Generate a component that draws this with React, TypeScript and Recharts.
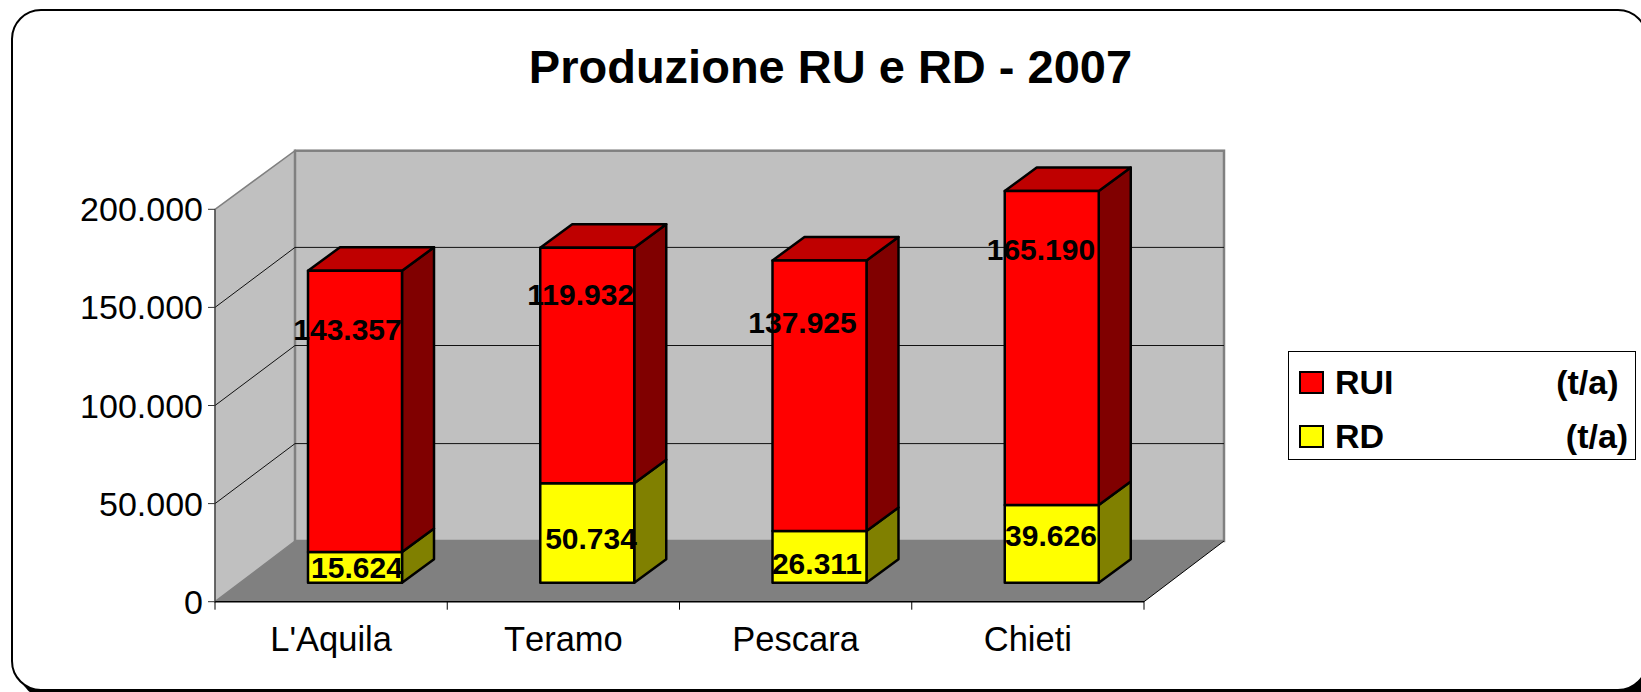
import { BarChart, Bar, CartesianGrid, LabelList, Legend, ReferenceArea, XAxis, YAxis } from "recharts";

const provinces = ["L'Aquila", "Teramo", "Pescara", "Chieti"];
const rdValues = [15624, 50734, 26311, 39626];
// bar heights as drawn; the Chieti column stands lower than its printed label says
const ruiValues = [143357, 119932, 137925, 160000];
const rdLabels = ["15.624", "50.734", "26.311", "39.626"];
const ruiLabels = ["143.357", "119.932", "137.925", "165.190"];
const yTicks = [0, 50000, 100000, 150000, 200000];
const edgeTicks = [0, 1, 2, 3, 4];
const RUI_NAME = "RUI                 (t/a)";
const RD_NAME = "RD                   (t/a)";

const rows = provinces.map((province, i) => ({ province, slot: i, rd: rdValues[i], rui: ruiValues[i] }));

const FONT = "'Liberation Sans', Arial, sans-serif";
const WALL_DX = 80;
const WALL_DY = 60;
const WALL_TOP_DY = 58.6;
const WALL_FLOOR_DY = 60.7;
const BAR_SHIFT_X = 24;
const BAR_SHIFT_Y = -19;
const BAR_DX = 32;
const BAR_DY = 23.5;
const EDGE_AXIS = 0;
const NAME_AXIS = 1;

// where the exporter left the value labels, relative to the middle of the front face
const rdNudge = [[2, 0], [3.8, 6], [-2.5, 6.5], [-0.8, -8.8]];
const ruiNudge = [[-7.5, -82.3], [-6.5, -71.5], [-17, -73.6], [-10.8, -98.7]];

const formatTick = (v: number) => String(v).replace(/\B(?=(\d{3})+$)/g, ".");

function Room({ x, y, width, height }: any) {
  const right = x + width;
  const bottom = y + height;
  const backTop = y - WALL_TOP_DY;
  const backBottom = bottom - WALL_FLOOR_DY;
  return (
    <g>
      <polygon
        points={`${x},${y} ${x + WALL_DX},${backTop} ${x + WALL_DX},${backBottom} ${x},${bottom}`}
        fill="#c0c0c0"
        stroke="#808080"
        strokeWidth={1.5}
      />
      <rect
        x={x + WALL_DX}
        y={backTop}
        width={width}
        height={backBottom - backTop}
        fill="#c0c0c0"
        stroke="#808080"
        strokeWidth={2.5}
      />
      <polygon
        points={`${x},${bottom} ${x + WALL_DX},${backBottom} ${right + WALL_DX},${backBottom} ${right},${bottom}`}
        fill="#808080"
      />
      <line x1={right} y1={bottom} x2={right + WALL_DX} y2={backBottom} stroke="#000" strokeWidth={1} />
    </g>
  );
}

function GridStep({ x1, y1, x2, y2 }: any) {
  if (y1 > 600 || y1 < 215) return <g />;
  return (
    <g stroke="#111" strokeWidth={1}>
      <line x1={x1} y1={y1} x2={x1 + WALL_DX} y2={y1 - WALL_DY} />
      <line x1={x1 + WALL_DX} y1={y1 - WALL_DY} x2={x2 + WALL_DX} y2={y2 - WALL_DY} />
    </g>
  );
}

function Column({ x, y, width, height, front, side, top }: any) {
  const fx = x + BAR_SHIFT_X;
  const fy = y + BAR_SHIFT_Y;
  return (
    <g stroke="#000" strokeWidth={2.5} strokeLinejoin="round">
      <polygon
        points={`${fx + width},${fy} ${fx + width + BAR_DX},${fy - BAR_DY} ${fx + width + BAR_DX},${fy + height - BAR_DY} ${fx + width},${fy + height}`}
        fill={side}
      />
      {top && (
        <polygon
          points={`${fx},${fy} ${fx + BAR_DX},${fy - BAR_DY} ${fx + width + BAR_DX},${fy - BAR_DY} ${fx + width},${fy}`}
          fill={top}
        />
      )}
      <rect x={fx} y={fy} width={width} height={height} fill={front} />
    </g>
  );
}

function valueLabel(texts: string[], nudge: number[][]) {
  return ({ x, y, width, height, index }: any) => (
    <text
      x={x + width / 2 + BAR_SHIFT_X + nudge[index][0]}
      y={y + height / 2 + BAR_SHIFT_Y + nudge[index][1]}
      textAnchor="middle"
      dominantBaseline="central"
      fontFamily={FONT}
      fontWeight="bold"
      fontSize={30}
      fill="#000"
    >
      {texts[index]}
    </text>
  );
}

function LegendBox({ payload }: any) {
  const items = [...(payload || [])].sort((a: any, b: any) => (a.value === RUI_NAME ? -1 : b.value === RUI_NAME ? 1 : 0));
  return (
    <div style={{ boxSizing: "border-box", width: 348, height: 109, border: "1px solid #000", background: "#fff", position: "relative" }}>
      {items.map((item: any, i: number) => (
        <div
          key={item.value}
          style={{
            position: "absolute",
            left: 10,
            top: 15 + i * 54.5,
            display: "flex",
            alignItems: "center",
            height: 30,
            fontFamily: FONT,
            fontWeight: "bold",
            fontSize: 34,
            color: "#000",
            whiteSpace: "pre",
            wordSpacing: 0.12,
          }}
        >
          <span style={{ boxSizing: "border-box", width: 25, height: 23, border: "2px solid #000", background: item.color, marginRight: 11 }} />
          {item.value}
        </div>
      ))}
    </div>
  );
}

export default function App() {
  return (
    <div style={{ position: "absolute", left: 0, top: 0, width: 1641, height: 692, overflow: "hidden", background: "#fff" }}>
      <div
        style={{
          position: "absolute",
          boxSizing: "border-box",
          left: 11,
          top: 9,
          width: 1637,
          height: 682,
          border: "2px solid #000",
          borderRadius: 30,
          background: "#fff",
          boxShadow: "8px 8px 0 #000",
        }}
      />
      <div style={{ position: "absolute", left: 0, top: 0 }}>
        <BarChart
          width={1641}
          height={692}
          data={rows}
          barSize={94}
          margin={{ top: 209.3, right: 149, bottom: 40.3, left: 0 }}
        >
          <ReferenceArea xAxisId={NAME_AXIS} y1={0} y2={200000} shape={<Room />} ifOverflow="visible" zIndex={-200} />
          <CartesianGrid xAxisId={NAME_AXIS} vertical={false} horizontal={(props: any) => <GridStep {...props} />} />
          <XAxis
            xAxisId={EDGE_AXIS}
            dataKey="slot"
            type="number"
            domain={[0, 4]}
            ticks={edgeTicks}
            interval={0}
            height={1}
            tickSize={8}
            tickFormatter={() => ""}
            axisLine={{ stroke: "#000", strokeWidth: 1.5 }}
            tickLine={{ stroke: "#000" }}
          />
          <XAxis
            xAxisId={NAME_AXIS}
            dataKey="province"
            height={49}
            interval={0}
            axisLine={false}
            tickLine={false}
            tickSize={0}
            tickMargin={24}
            tick={{ fontFamily: FONT, fontSize: 34.5, fill: "#000", style: { fontKerning: "none" } }}
          />
          <YAxis
            width={215}
            domain={[0, 200000]}
            ticks={yTicks}
            interval={0}
            tickFormatter={formatTick}
            tickSize={7}
            tickMargin={5}
            axisLine={{ stroke: "#333", strokeWidth: 1 }}
            tickLine={{ stroke: "#333" }}
            tick={{ fontFamily: FONT, fontSize: 34, fill: "#000" }}
          />
          <Bar
            xAxisId={NAME_AXIS}
            dataKey="rd"
            name={RD_NAME}
            stackId="a"
            fill="#ffff00"
            isAnimationActive={false}
            shape={(p: any) => <Column {...p} front="#ffff00" side="#808000" />}
          >
            <LabelList dataKey="rd" content={valueLabel(rdLabels, rdNudge)} />
          </Bar>
          <Bar
            xAxisId={NAME_AXIS}
            dataKey="rui"
            name={RUI_NAME}
            stackId="a"
            fill="#ff0000"
            isAnimationActive={false}
            shape={(p: any) => <Column {...p} front="#ff0000" side="#800000" top="#bf0000" />}
          >
            <LabelList dataKey="rui" content={valueLabel(ruiLabels, ruiNudge)} />
          </Bar>
          <Legend
            layout="vertical"
            align="right"
            verticalAlign="middle"
            content={<LegendBox />}
            wrapperStyle={{ left: 1288, top: 351, width: 348, height: 109 }}
          />
          <text x={830.5} y={82.7} textAnchor="middle" fontFamily={FONT} fontWeight="bold" fontSize={47} fill="#000">
            Produzione RU e RD - 2007
          </text>
        </BarChart>
      </div>
    </div>
  );
}
